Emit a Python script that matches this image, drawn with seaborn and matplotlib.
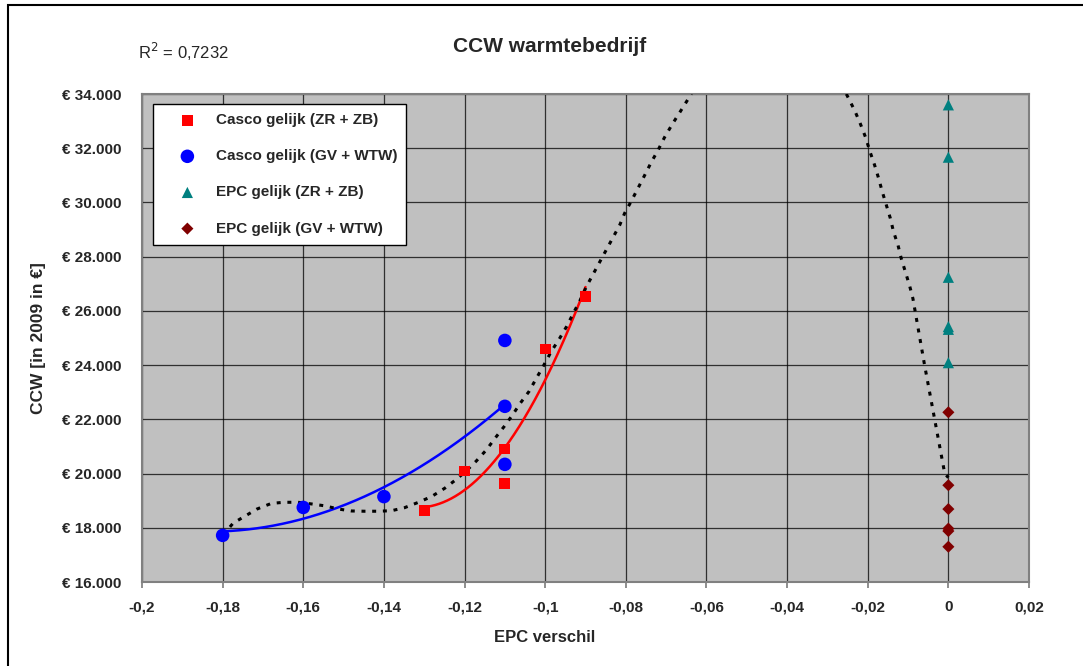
import numpy as np
import pandas as pd
import matplotlib
matplotlib.use("Agg")
import matplotlib.pyplot as plt
from matplotlib.ticker import FuncFormatter, MultipleLocator
from matplotlib.patches import Rectangle
import seaborn as sns

# ---- data ----
casco_zr_x = [-0.13, -0.12, -0.11, -0.11, -0.10, -0.09]
casco_zr_y = [18640, 20090, 20910, 19620, 24590, 26540]
casco_gv_x = [-0.18, -0.16, -0.14, -0.11, -0.11, -0.11]
casco_gv_y = [17720, 18750, 19150, 24910, 22480, 20340]
epc_zr_x = [0, 0, 0, 0, 0, 0]
epc_zr_y = [33600, 31670, 27240, 25420, 25320, 24090]
epc_gv_x = [0, 0, 0, 0, 0, 0]
epc_gv_y = [22260, 19570, 18690, 17970, 17880, 17300]

# dotted overall trendline (R^2 = 0,7232)
trend_left_x = [-0.1799, -0.1774, -0.1715, -0.1679, -0.1648, -0.1613, -0.1580, -0.1547,
                -0.1512, -0.1481, -0.1448, -0.1415, -0.1381, -0.1349, -0.1316, -0.1282,
                -0.1249, -0.1220, -0.1195, -0.1171, -0.1146, -0.1124, -0.1102, -0.1081,
                -0.1062, -0.1040, -0.1022, -0.1004, -0.0985, -0.0964, -0.0947, -0.0931,
                -0.0914, -0.0898, -0.0815, -0.0803, -0.0786, -0.0770, -0.0753, -0.0737,
                -0.0720, -0.0704, -0.0685, -0.0665, -0.0646, -0.0637]
trend_left_y = [17730, 18170, 18690, 18900, 18940, 18940, 18880, 18810,
                18690, 18620, 18610, 18610, 18630, 18740, 18930, 19150,
                19460, 19790, 20110, 20460, 20870, 21310, 21730, 22160,
                22590, 23030, 23510, 23980, 24500, 24990, 25420, 25890,
                26370, 26890, 29170, 29600, 30060, 30520, 31010, 31480,
                31930, 32400, 32880, 33350, 33800, 34000]
trend_right_x = [-0.0253, -0.0249, -0.0232, -0.0218, -0.0205, -0.0195, -0.0183, -0.0173,
                 -0.0164, -0.0154, -0.0144, -0.0136, -0.0125, -0.0117, -0.0106, -0.0096,
                 -0.0088, -0.0059, -0.0034, -0.0009, 0.0]
trend_right_y = [34000, 33880, 33380, 32890, 32390, 31900, 31380, 30890,
                 30400, 29910, 29420, 28920, 28430, 27940, 27410, 26920,
                 26460, 24000, 22000, 20000, 19850]

labels = ["Casco gelijk (ZR + ZB)", "Casco gelijk (GV + WTW)",
          "EPC gelijk (ZR + ZB)", "EPC gelijk (GV + WTW)"]
title = "CCW warmtebedrijf"
r2_text = "R$^2$ = 0,7232"

sns.set_theme(style="white")
plt.rcParams['font.family'] = ['Liberation Sans', 'DejaVu Sans']

fig = plt.figure(figsize=(10.83, 6.66), dpi=100)
ax = fig.add_axes([142/1083, 1-582/666, (1029-142)/1083, (582-94)/666])
ax.set_facecolor("#C0C0C0")

df = pd.concat([
    pd.DataFrame({"x": casco_zr_x, "y": casco_zr_y, "s": labels[0]}),
    pd.DataFrame({"x": casco_gv_x, "y": casco_gv_y, "s": labels[1]}),
    pd.DataFrame({"x": epc_zr_x, "y": epc_zr_y, "s": labels[2]}),
    pd.DataFrame({"x": epc_gv_x, "y": epc_gv_y, "s": labels[3]}),
], ignore_index=True)

palette = {labels[0]: "#FF0000", labels[1]: "#0000FF",
           labels[2]: "#008080", labels[3]: "#800000"}
markers = {labels[0]: "s", labels[1]: "o", labels[2]: "^", labels[3]: "D"}
sizes = {labels[0]: 60, labels[1]: 95, labels[2]: 65, labels[3]: 38}

for lab in labels:
    sub = df[df.s == lab]
    sns.scatterplot(data=sub, x="x", y="y", color=palette[lab], marker=markers[lab],
                    s=sizes[lab], edgecolor="none", linewidth=0, ax=ax, label=lab, zorder=4)

# series trendlines (polynomial fits of each series)
def trend(xs, ys, deg, x0, x1):
    c = np.polyfit(xs, ys, deg)
    xx = np.linspace(x0, x1, 400)
    return xx, np.polyval(c, xx)

xr, yr = trend(casco_zr_x, casco_zr_y, 2, -0.13, -0.09)
sns.lineplot(x=xr, y=yr, color="#FF0000", lw=1.8, ax=ax, zorder=3, legend=False)
xb, yb = trend(casco_gv_x, casco_gv_y, 2, -0.18, -0.11)
sns.lineplot(x=xb, y=yb, color="#0000FF", lw=1.8, ax=ax, zorder=3, legend=False)

# overall dotted trendline
for tx, ty in [(trend_left_x, trend_left_y), (trend_right_x, trend_right_y)]:
    sns.lineplot(x=tx, y=ty, color="black", lw=2.2, ax=ax, zorder=3, legend=False,
                 sort=False, estimator=None, linestyle=(0, (1.3, 2.2)))

ax.set_xlim(-0.2, 0.02)
ax.set_ylim(16000, 34000)
ax.xaxis.set_major_locator(MultipleLocator(0.02))
ax.yaxis.set_major_locator(MultipleLocator(2000))
ax.grid(True, color="black", lw=0.9, alpha=0.75)
ax.set_axisbelow(True)
for sp in ax.spines.values():
    sp.set_color("#808080")
    sp.set_linewidth(1.5)

def yfmt(v, p):
    return "€ " + f"{int(round(v)):,}".replace(",", ".")

def xfmt(v, p):
    v = round(v, 4)
    if abs(v) < 1e-9:
        return "0"
    return f"{v:g}".replace(".", ",")

ax.yaxis.set_major_formatter(FuncFormatter(yfmt))
ax.xaxis.set_major_formatter(FuncFormatter(xfmt))
ax.tick_params(axis="y", labelsize=11, pad=15, length=0)
ax.tick_params(axis="x", labelsize=11, pad=9, length=4, color="#808080", direction="out", bottom=True)
for t in ax.get_xticklabels() + ax.get_yticklabels():
    t.set_fontweight("bold")
ax.set_xlabel("")
ax.set_ylabel("")

leg = ax.legend(loc="upper left", bbox_to_anchor=(0.0124, 0.9795), borderaxespad=0,
                frameon=True, fancybox=False, edgecolor="black", facecolor="white",
                framealpha=1, prop={"weight": "bold", "size": 11},
                labelspacing=1.45, handletextpad=0.2, borderpad=0.6, handlelength=3.3)
leg.get_frame().set_linewidth(1.0)
leg.set_zorder(10)

fig.text(550/1083, 1-47/666, title, ha="center", va="center", fontsize=15, fontweight="bold")
fig.text(138/1083, 1-52/666, r2_text, ha="left", va="center", fontsize=12)
fig.text(545/1083, 1-637/666, "EPC verschil", ha="center", va="center", fontsize=12, fontweight="bold")
fig.text(39/1083, 1-338/666, "CCW [in 2009 in €]", ha="center", va="center", rotation=90,
         fontsize=12.5, fontweight="bold")

fig.patches.append(Rectangle((8/1083, -0.05), 1.2, 1-5/666+0.05, transform=fig.transFigure,
                             fill=False, edgecolor="black", lw=1.5))

fig.savefig("out.png", dpi=100)
